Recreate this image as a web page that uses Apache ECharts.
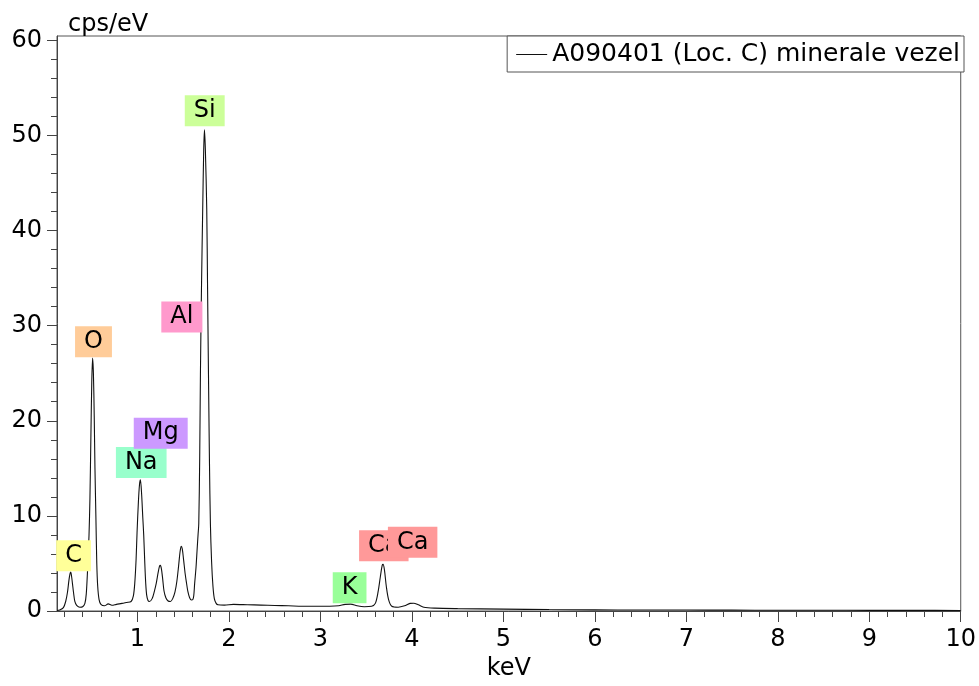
<!DOCTYPE html>
<html>
<head>
<meta charset="utf-8">
<script src="https://cdn.jsdelivr.net/npm/echarts@6/dist/echarts.min.js"></script>
<style>
html,body{margin:0;padding:0;background:#fff;}
#chart{width:979px;height:686px;}
</style>
</head>
<body>
<div id="chart"></div>
<script>
// ---- data ----
var seriesName = 'A090401 (Loc. C) minerale vezel';
var energyKeV = [
  0.12,0.15,0.19,0.215,0.235,0.25,0.262,0.27,0.28,0.29,0.30,0.315,0.335,0.37,0.40,
  0.425,0.44,0.455,0.47,0.48,0.49,0.50,0.509,0.518,0.527,0.535,0.545,0.555,0.565,0.58,0.60,
  0.64,0.68,0.72,0.77,0.83,0.88,0.93,
  0.955,0.97,0.985,0.995,1.01,1.022,1.032,1.045,1.058,1.068,1.08,1.09,1.10,1.115,
  1.13,1.16,1.185,1.205,1.225,1.24,1.25,1.262,1.275,1.29,1.31,1.335,1.36,
  1.385,1.41,1.43,1.45,1.465,1.478,1.49,1.505,1.52,1.535,1.55,1.57,1.59,1.605,
  1.615,1.625,1.64,1.652,1.662,1.67,1.68,1.688,1.699,1.713,1.724,1.732,1.742,1.757,1.766,1.776,1.787,1.797,1.81,1.825,1.84,1.86,1.88,
  1.95,2.05,2.2,2.35,2.5,2.65,2.8,2.95,3.1,3.2,3.27,3.33,3.4,3.48,3.56,
  3.6,3.63,3.655,3.675,3.685,3.70,3.72,3.745,3.78,3.85,3.92,3.98,4.02,4.07,4.13,4.25,
  4.5,5.0,5.5,6.0,6.5,7.0,7.5,8.0,8.5,9.0,9.5,10.0
];
var countsCpsPerEV = [
  0.05,0.1,0.35,1.0,2.0,3.2,3.9,4.1,3.6,2.8,2.0,1.0,0.6,0.4,0.45,
  0.8,1.8,4.5,8,11.8,18,24,26.6,25,20.5,15,10,5,2.6,1.2,0.7,
  0.55,0.75,0.6,0.7,0.8,0.9,1.0,
  1.6,2.9,5.5,8.2,11.5,13.3,13.8,12.3,9.8,8.0,5,2.9,1.7,1.1,
  1.0,1.3,2.1,2.9,4.0,4.7,4.8,4.4,3.4,2.1,1.4,1.05,1.0,
  1.3,2.0,3.1,4.8,6.2,6.8,6.5,5.3,4.0,3.0,2.1,1.4,1.15,1.2,
  1.6,2.9,4.6,6.5,8.0,9.2,16,24.9,33.6,42.3,48.5,50.6,48.5,42.3,34,24.9,15.5,9.2,5.2,2.6,1.3,0.8,0.65,
  0.62,0.7,0.66,0.62,0.58,0.55,0.5,0.5,0.5,0.55,0.7,0.72,0.55,0.45,0.5,
  0.8,2.0,3.6,4.8,4.9,4.3,2.6,1.2,0.5,0.4,0.55,0.8,0.82,0.65,0.4,0.3,
  0.25,0.2,0.15,0.12,0.1,0.1,0.09,0.08,0.08,0.07,0.07,0.06
];
// element annotation labels (anchor in keV / cps)
var elementNames   = ['C', 'O', 'Na', 'Mg', 'Al', 'Si', 'K', 'Ca', 'Ca'];
var elementKeV     = [0.301, 0.519, 1.041, 1.254, 1.485, 1.735, 3.319, 3.693, 4.008];
var elementLabelY  = [5.8, 28.3, 15.6, 18.7, 30.9, 52.6, 2.44, 6.85, 7.22];
var elementColors  = ['#ffff99','#ffcc99','#99ffcc','#cc99ff','#ff99cc','#ccff99','#99ff99','#ff9999','#ff9999'];

// axis ticks
var xMajorTicks = [1,2,3,4,5,6,7,8,9,10];
var xMinorTicks = [0.2,0.4,0.6,0.8,1.2,1.4,1.6,1.8,2.2,2.4,2.6,2.8,3.2,3.4,3.6,3.8,4.2,4.4,4.6,4.8,
  5.2,5.4,5.6,5.8,6.2,6.4,6.6,6.8,7.2,7.4,7.6,7.8,8.2,8.4,8.6,8.8,9.2,9.4,9.6,9.8];
var yMajorTicks = [0,10,20,30,40,50,60];
var yMinorTicks = [2,4,6,8,12,14,16,18,22,24,26,28,32,34,36,38,42,44,46,48,52,54,56,58];

// ---- chart ----
var FONT = 'DejaVu Sans';
var lineData = energyKeV.map(function (e, i) { return [e, countsCpsPerEV[i]]; });
var labelData = elementNames.map(function (n, i) {
  return {
    value: [elementKeV[i], elementLabelY[i]],
    name: n,
    label: { backgroundColor: elementColors[i] }
  };
});

var axisColor = '#444';
var xMin = 0.12, xMax = 10, yMin = 0, yMax = 60.45;

var chart = echarts.init(document.getElementById('chart'), null, { renderer: 'canvas' });
chart.setOption({
  animation: false,
  backgroundColor: '#ffffff',
  textStyle: { fontFamily: FONT },
  title: {
    text: 'cps/eV',
    left: 63, top: 8,
    textStyle: { fontFamily: FONT, fontSize: 24, fontWeight: 'normal', color: '#000' }
  },
  legend: {
    data: [seriesName],
    right: 15, top: 36,
    orient: 'horizontal',
    selectedMode: false,
    icon: 'rect',
    itemWidth: 31, itemHeight: 1,
    padding: [6, 4, 5, 9],
    borderColor: '#555', borderWidth: 1,
    backgroundColor: '#fff',
    itemStyle: { color: '#111' },
    textStyle: { fontFamily: FONT, fontSize: 25, color: '#000' }
  },
  grid: {
    left: 57, right: 15, top: 36, bottom: 75,
    show: true, borderColor: '#555', borderWidth: 1, backgroundColor: '#fff'
  },
  xAxis: [
    {
      type: 'value', min: xMin, max: xMax, position: 'bottom',
      name: 'keV', nameLocation: 'middle', nameGap: 44,
      nameTextStyle: { fontFamily: FONT, fontSize: 24, color: '#000' },
      axisLine: { show: true, lineStyle: { color: axisColor, width: 1 } },
      axisTick: { show: true, length: 11, customValues: xMajorTicks, lineStyle: { color: axisColor } },
      axisLabel: { show: true, customValues: xMajorTicks, margin: 17, fontFamily: FONT, fontSize: 24, color: '#000' },
      splitLine: { show: false }
    },
    {
      type: 'value', min: xMin, max: xMax, position: 'bottom',
      axisLine: { show: false },
      axisTick: { show: true, length: 6, customValues: xMinorTicks, lineStyle: { color: axisColor } },
      axisLabel: { show: false },
      splitLine: { show: false }
    }
  ],
  yAxis: [
    {
      type: 'value', min: yMin, max: yMax, position: 'left',
      axisLine: { show: true, lineStyle: { color: axisColor, width: 1 } },
      axisTick: { show: true, length: 10, customValues: yMajorTicks, lineStyle: { color: axisColor } },
      axisLabel: { show: true, customValues: yMajorTicks, margin: 15, fontFamily: FONT, fontSize: 24, color: '#000' },
      splitLine: { show: false }
    },
    {
      type: 'value', min: yMin, max: yMax, position: 'left',
      axisLine: { show: false },
      axisTick: { show: true, length: 6, customValues: yMinorTicks, lineStyle: { color: axisColor } },
      axisLabel: { show: false },
      splitLine: { show: false }
    }
  ],
  series: [
    {
      name: seriesName,
      type: 'line',
      xAxisIndex: 0, yAxisIndex: 0,
      data: lineData,
      showSymbol: false, symbol: 'none',
      smooth: 0.3,
      silent: true,
      lineStyle: { color: '#111', width: 1.1 },
      itemStyle: { color: '#111' },
      z: 2
    },
    {
      name: 'elements',
      type: 'scatter',
      xAxisIndex: 0, yAxisIndex: 0,
      data: labelData,
      symbolSize: 0,
      silent: true,
      itemStyle: { opacity: 1 },
      z: 5,
      label: {
        show: true,
        position: 'inside',
        formatter: '{b}',
        fontFamily: FONT, fontSize: 24, lineHeight: 25,
        color: '#000',
        padding: [3, 9, 3, 9]
      },
      labelLayout: { hideOverlap: false }
    }
  ]
});
</script>
</body>
</html>
